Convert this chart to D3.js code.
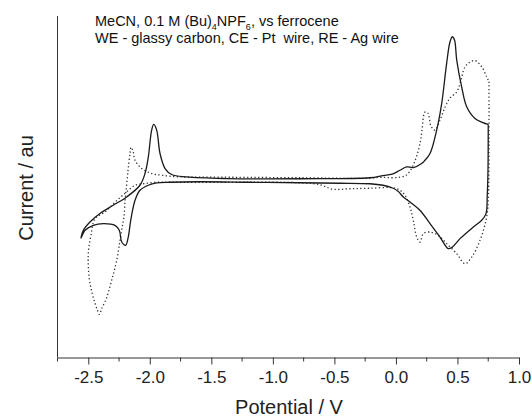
<!DOCTYPE html>
<html>
<head>
<meta charset="utf-8">
<script src="https://cdn.jsdelivr.net/npm/d3@7"></script>
<style>
  body { margin: 0; background: #fff; }
  svg { font-family: "Liberation Sans", Arial, sans-serif; }
</style>
</head>
<body>
<div id="chart"></div>
<script>
// cyclic voltammograms, current in arbitrary units
var solid_V = [0.750, 0.748, 0.742, 0.732, 0.697, 0.629, 0.521, 0.456, 0.425, 0.358, 0.277, 0.195, 0.114, 0.060, 0.017, -0.032, -0.105, -0.211, -0.455, -0.780, -1.186, -1.592, -1.836, -1.944, -2.012, -2.080, -2.120, -2.155, -2.175, -2.196, -2.228, -2.248, -2.283, -2.378, -2.459, -2.526, -2.559,
  -2.540, -2.486, -2.405, -2.297, -2.188, -2.080, -2.039, -2.012, -1.985, -1.968, -1.944, -1.917, -1.876, -1.822, -1.700, -1.375, -0.780, -0.211, -0.105, -0.032, 0.033, 0.087, 0.141, 0.209, 0.236, 0.277, 0.331, 0.372, 0.412, 0.439, 0.458, 0.476, 0.494, 0.534, 0.575, 0.642, 0.707, 0.750];
var solid_I = [5.67, 1.10, -1.40, -3.23, -3.90, -4.57, -5.73, -6.60, -6.73, -5.57, -4.23, -2.90, -2.07, -1.57, -1.00, -0.65, -0.40, -0.25, -0.20, -0.15, -0.10, -0.05, -0.10, -0.17, -0.40, -0.90, -1.90, -3.90, -5.57, -6.40, -6.07, -4.90, -4.40, -4.23, -4.40, -4.90, -5.67,
  -4.90, -4.07, -3.23, -2.40, -1.57, -0.40, 0.77, 2.43, 5.10, 5.67, 5.10, 2.77, 1.27, 0.67, 0.43, 0.27, 0.25, 0.35, 0.57, 0.70, 1.10, 1.43, 1.37, 1.77, 2.10, 2.77, 5.10, 7.77, 11.77, 13.90, 14.43, 14.10, 12.10, 9.43, 7.43, 6.27, 5.85, 5.67];

var dotted_V = [0.756, 0.756, 0.752, 0.737, 0.683, 0.616, 0.561, 0.494, 0.412, 0.344, 0.277, 0.223, 0.195, 0.169, 0.141, 0.114, 0.074, 0.033, -0.024, -0.211, -0.373, -0.511, -0.617, -0.780, -1.186, -1.592, -1.836, -1.934, -2.039, -2.120, -2.201, -2.283, -2.364, -2.445, -2.478, -2.498, -2.500, -2.490, -2.470, -2.445, -2.425, -2.410,
  -2.391, -2.350, -2.310, -2.269, -2.242, -2.222, -2.210, -2.201, -2.193, -2.182, -2.174, -2.160, -2.152, -2.136, -2.120, -2.066, -1.984, -1.904, -1.779, -1.349, -0.780, -0.211, -0.130, -0.048, 0.033, 0.082, 0.114, 0.147, 0.171, 0.196, 0.212, 0.236, 0.260, 0.285, 0.317, 0.358, 0.399, 0.439, 0.494, 0.521, 0.561, 0.602, 0.642, 0.697, 0.737, 0.756];
var dotted_I = [9.93, 4.10, -1.23, -3.57, -5.90, -7.57, -8.23, -7.23, -6.23, -5.40, -5.07, -5.23, -6.07, -5.57, -3.90, -2.57, -1.40, -0.90, -0.65, -0.70, -0.75, -0.80, -0.35, -0.15, -0.10, -0.10, -0.10, -0.10, -0.23, -0.40, -1.20, -2.10, -3.07, -3.73, -5.40, -6.90, -8.40, -9.90, -11.10, -12.20, -12.90, -13.30,
  -12.73, -11.60, -9.90, -7.90, -5.90, -4.40, -3.57, -1.90, -0.90, 0.43, 1.43, 2.80, 3.40, 3.00, 2.10, 1.27, 0.77, 0.60, 0.45, 0.40, 0.35, 0.30, 0.40, 0.35, 0.40, 0.60, 1.00, 1.80, 2.60, 3.80, 5.10, 6.90, 6.80, 5.50, 5.10, 6.10, 7.40, 8.30, 8.93, 9.77, 11.40, 11.90, 12.05, 11.43, 10.43, 9.93];

var x_ticks = [-2.5, -2.0, -1.5, -1.0, -0.5, 0.0, 0.5, 1.0];
var x_minor = [-2.75, -2.25, -1.75, -1.25, -0.75, -0.25, 0.25, 0.75];

var width = 532, height = 418;
var plot_left = 57.5, plot_right = 519, plot_top = 16, plot_bottom = 357.5;

var svg = d3.select("#chart").append("svg")
  .attr("width", width)
  .attr("height", height);

var x = d3.scaleLinear().domain([-2.75, 1.0]).range([plot_left, plot_right]);
var y = d3.scaleLinear().domain([-17.6, 16.5]).range([plot_bottom, plot_top]);

// axes
var xAxis = d3.axisBottom(x).tickValues(x_ticks).tickSize(7).tickSizeOuter(0)
  .tickFormat(function(d) { return d.toFixed(1); });
var gx = svg.append("g").attr("transform", "translate(0," + plot_bottom + ")").call(xAxis);
gx.select(".domain").attr("stroke", "#333");
gx.selectAll(".tick line").attr("stroke", "#333");
gx.selectAll(".tick text").attr("font-size", 17).attr("fill", "#222")
  .attr("font-family", "Liberation Sans, Arial, sans-serif").attr("y", 13);

var gm = svg.append("g").attr("transform", "translate(0," + plot_bottom + ")");
gm.selectAll("line").data(x_minor).enter().append("line")
  .attr("x1", function(d) { return x(d); })
  .attr("x2", function(d) { return x(d); })
  .attr("y1", 0).attr("y2", 4)
  .attr("stroke", "#333");

svg.append("line")
  .attr("x1", plot_left).attr("x2", plot_left)
  .attr("y1", plot_top).attr("y2", plot_bottom)
  .attr("stroke", "#333");

// curves
var line = d3.line()
  .x(function(d) { return x(d[0]); })
  .y(function(d) { return y(d[1]); })
  .curve(d3.curveCatmullRom.alpha(0.5));

var solid = d3.zip(solid_V, solid_I);
var dotted = d3.zip(dotted_V, dotted_I);

svg.append("path").attr("d", line(dotted))
  .attr("fill", "none").attr("stroke", "#333")
  .attr("stroke-width", 1.3).attr("stroke-dasharray", "1.3,2.4");

svg.append("path").attr("d", line(solid))
  .attr("fill", "none").attr("stroke", "#1a1a1a")
  .attr("stroke-width", 1.3);

// labels
svg.append("text")
  .attr("x", 289).attr("y", 414)
  .attr("text-anchor", "middle").attr("font-size", 20).attr("fill", "#222")
  .text("Potential / V");

svg.append("text")
  .attr("transform", "translate(33,188) rotate(-90)")
  .attr("text-anchor", "middle").attr("font-size", 20).attr("fill", "#222")
  .text("Current / au");

var note1 = svg.append("text")
  .attr("x", 95).attr("y", 26)
  .attr("font-size", 14.5).attr("fill", "#111");
note1.append("tspan").text("MeCN, 0.1 M (Bu)");
note1.append("tspan").attr("font-size", 9).attr("baseline-shift", "-4px").text("4");
note1.append("tspan").text("NPF");
note1.append("tspan").attr("font-size", 9).attr("baseline-shift", "-4px").text("6");
note1.append("tspan").text(", vs ferrocene");

svg.append("text")
  .attr("x", 95).attr("y", 42.5)
  .attr("font-size", 14.5).attr("fill", "#111")
  .style("white-space", "pre")
  .text("WE - glassy carbon, CE - Pt  wire, RE - Ag wire");
</script>
</body>
</html>
